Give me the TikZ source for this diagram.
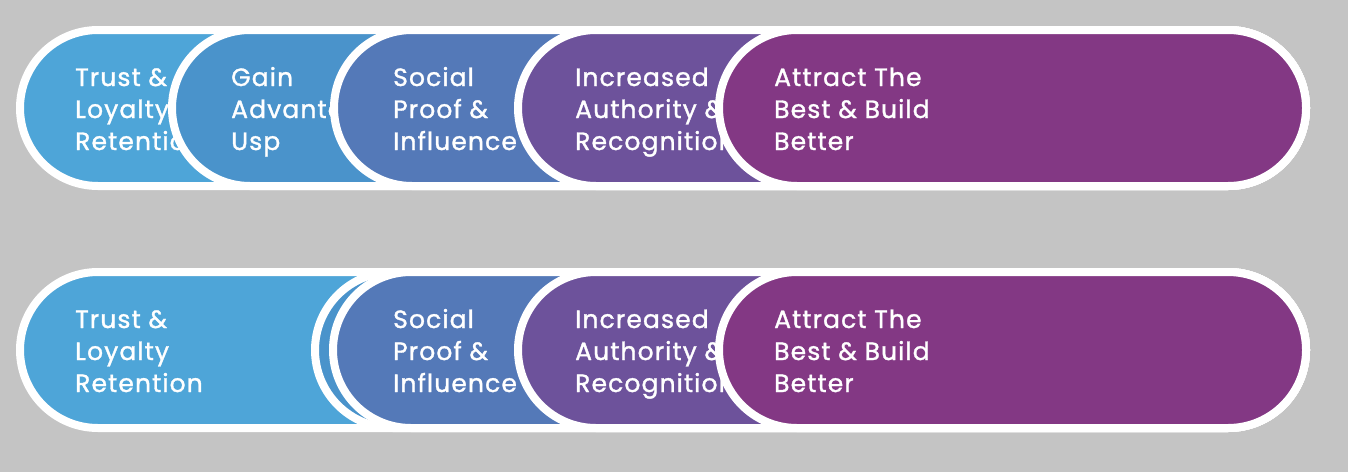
\documentclass[tikz,border=0pt]{standalone}
\usepackage{fontspec}
\setmainfont{Poppins}[LetterSpace=4.5, FakeBold=1.3]
\definecolor{bgc}{RGB}{196,196,196}
\definecolor{ca}{RGB}{78,165,216}
\definecolor{cb}{RGB}{74,147,203}
\definecolor{cc}{RGB}{84,121,184}
\definecolor{cd}{RGB}{109,82,155}
\definecolor{ce}{RGB}{131,56,132}
\begin{document}
\begin{tikzpicture}[x=1pt,y=-1pt,
  pill/.style={draw=white, line width=8pt, rounded corners=78pt},
  lbl/.style={text=white, anchor=base west, align=left, inner sep=0pt,
    font=\fontsize{25}{32}\selectfont}]
\fill[bgc] (0,0) rectangle (1348,472);
\useasboundingbox (0,0) rectangle (1348,472);
% Row 1
\path[pill, fill=ca] (20,30) rectangle (1306,186);
\node[lbl] (a1) at (75,150) {Trust \&\\Loyalty\\Retention};
\path[pill, fill=cb] (172,30) rectangle (1306,186);
\node[lbl] (b1) at (231,150) {Gain\\Advantage\\Usp};
\path[pill, fill=cc] (334,30) rectangle (1306,186);
\node[lbl] (c1) at (393,150) {Social\\Proof \&\\Influence};
\path[pill, fill=cd] (518,30) rectangle (1306,186);
\node[lbl] (d1) at (575,150) {Increased\\Authority \&\\Recognition};
\path[pill, fill=ce] (719,30) rectangle (1306,186);
\node[lbl] (e1) at (774,150) {Attract The\\Best \& Build\\Better};
% Row 2
\path[pill, fill=ca] (20,272) rectangle (1306,428);
\node[lbl] (a2) at (75,392) {Trust \&\\Loyalty\\Retention};
\path[pill, fill=cb] (315,272) rectangle (1306,428);
\path[pill, fill=cc] (333,272) rectangle (1306,428);
\node[lbl] (c2) at (393,392) {Social\\Proof \&\\Influence};
\path[pill, fill=cd] (518,272) rectangle (1306,428);
\node[lbl] (d2) at (575,392) {Increased\\Authority \&\\Recognition};
\path[pill, fill=ce] (719,272) rectangle (1306,428);
\node[lbl] (e2) at (774,392) {Attract The\\Best \& Build\\Better};
\end{tikzpicture}
\end{document}
